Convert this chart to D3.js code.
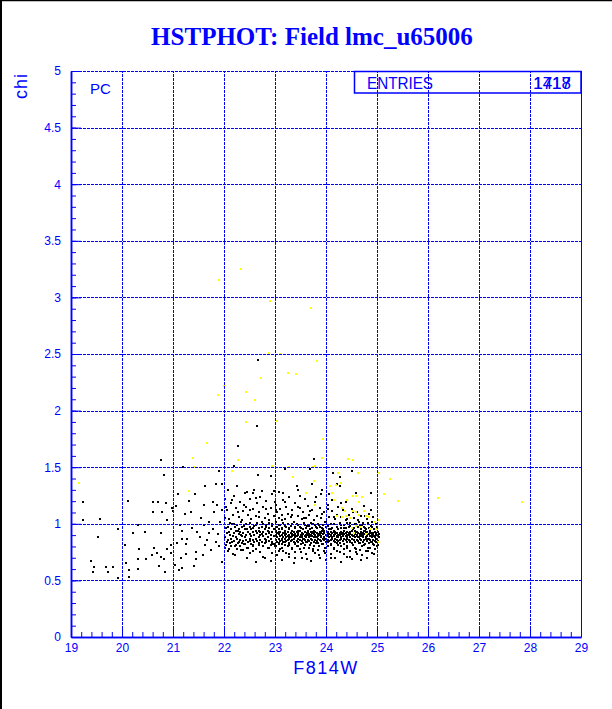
<!DOCTYPE html>
<html><head><meta charset="utf-8">
<script src="https://cdn.jsdelivr.net/npm/d3@7"></script>
<style>body{margin:0;background:#fff}svg{display:block}</style>
</head><body>
<script>
// ---- data ----
const title = "HSTPHOT: Field lmc_u65006";
const xLabel = "F814W";
const yLabel = "chi";
const xTicks = [19,20,21,22,23,24,25,26,27,28,29];
const yTicks = [0,0.5,1,1.5,2,2.5,3,3.5,4,4.5,5];
const statLabel = "ENTRIES";
const statValues = ["1418","1717"];
const optLabel = "PC";

// sparse black points [F814W, chi]
const blackSparse = [
[20.76,1.56],[20.82,1.43],[19.23,1.195],[19.24,1.03],[19.57,1.04],[20.12,1.20],[20.61,1.19],[20.71,1.19],
[20.86,1.18],[20.60,1.10],[20.79,1.10],[20.98,1.14],[20.88,1.03],[19.92,0.95],[19.52,0.88],[20.32,0.99],
[20.21,0.92],[20.46,0.93],[20.76,0.92],[20.05,0.81],[20.33,0.78],[19.39,0.67],[19.45,0.62],[19.43,0.57],
[19.68,0.62],[19.82,0.62],[19.73,0.57],[19.93,0.52],[20.13,0.53],[20.07,0.65],[20.13,0.59],[20.31,0.60],
[20.31,0.69],[20.47,0.69],[20.59,0.72],[20.62,0.79],[20.69,0.74],[20.73,0.63],[20.76,0.71],[20.82,0.69],
[20.85,0.57],[20.89,0.78],[20.96,0.81],[20.97,0.74],[21.03,0.64],[21.08,0.83],[21.12,0.59],[21.00,1.11],
[21.05,1.16],[21.09,1.26],[21.14,0.99],[21.20,1.50],[21.23,1.09],[21.18,0.94],[21.18,0.87],[21.16,0.70],
[21.17,0.61],[21.28,0.87],[21.25,0.82],[21.25,0.73],[21.31,1.20],[21.37,0.96],[21.44,1.26],[21.41,0.63],
[21.46,0.75],[21.46,0.69],[21.60,1.17],[21.62,1.33],[21.60,0.99],[21.52,0.88],[21.66,0.86],[21.63,0.81],
[21.71,0.92],[21.78,1.19],[21.84,1.35],[21.86,1.17],[21.91,1.47],[21.80,1.10],[21.79,0.95],[21.84,0.84],
[21.74,0.77],[21.96,0.66],[21.97,1.35],[21.96,1.12],[21.55,1.05],[21.70,1.02],[21.35,1.10],[21.48,0.93],
[21.90,0.80],[21.58,0.72],[21.88,0.91],[21.93,1.02],
[22.66,2.45],[22.64,1.86],[22.27,1.69],[23.76,1.57],[22.20,1.51],[22.66,1.43],
[23.19,1.48],[22.67,1.43],[22.92,1.42],[23.68,1.48],[24.51,1.47],[24.13,1.45],[24.27,1.41],[24.21,1.35],
[24.27,1.33],[23.93,1.30],[23.43,1.33],[23.49,1.25],[24.06,1.26],[24.59,1.27],[24.89,1.27],[22.46,1.28],
[22.56,1.27],[22.74,1.29],[22.99,1.29],[23.16,1.27],[22.42,1.27]
];

// dense black points grouped by F814W column: [F814W, [chi values]]
const blackDense = [
[22.02,[0.88,1.05,0.79,1.22]],[22.05,[0.92,0.84,1.12]],[22.08,[0.97,0.76,1.30,0.86]],
[22.11,[0.83,1.01,0.90]],[22.14,[0.95,1.18,0.80,0.87]],[22.17,[0.89,0.73,1.08]],
[22.20,[0.92,0.85,1.25,1.00]],[22.23,[0.81,0.94,0.88,1.14]],[22.26,[0.87,0.99,0.78,1.33]],
[22.29,[0.91,0.84,1.06,0.95]],[22.32,[0.86,0.93,1.19,0.80]],[22.35,[0.89,0.97,0.83,1.03]],
[22.38,[0.92,0.85,1.11,0.77]],[22.41,[0.88,0.95,1.27,0.82]],[22.44,[0.90,0.86,1.00,1.15]],
[22.47,[0.84,0.93,0.79,1.08]],[22.50,[0.91,0.87,0.97,1.22,0.74]],[22.53,[0.89,0.82,1.04,0.95]],
[22.56,[0.86,0.93,1.13,0.80]],[22.59,[0.90,0.84,0.98,1.30]],[22.62,[0.87,0.94,1.07,0.78,0.66]],
[22.65,[0.92,0.85,1.01,1.18]],[22.68,[0.88,0.96,0.81,1.10]],[22.71,[0.90,0.86,0.93,1.24,0.75]],
[22.74,[0.84,0.91,1.02,0.97]],[22.77,[0.89,0.93,0.80,1.15]],[22.80,[0.87,0.95,1.05,0.83,0.70]],
[22.83,[0.91,0.86,0.99,1.20]],[22.86,[0.88,0.94,0.79,1.09]],[22.89,[0.92,0.85,1.03,0.96]],
[22.92,[0.87,0.90,1.14,0.81,0.67]],[22.95,[0.93,0.84,1.00,1.26]],[22.98,[0.89,0.95,0.82,1.07]],
[23.01,[0.90,0.86,0.94,1.02,0.80,1.17]],[23.04,[0.88,0.92,0.84,0.97,1.10,0.72]],
[23.07,[0.91,0.87,0.95,0.83,1.05,1.28]],[23.10,[0.89,0.93,0.85,0.99,0.78,1.13]],
[23.13,[0.90,0.86,0.96,0.82,1.08,0.68]],[23.16,[0.92,0.88,0.84,1.01,1.21,0.76]],
[23.19,[0.87,0.94,0.90,0.81,1.04]],[23.22,[0.91,0.85,0.97,0.88,1.15,0.74]],
[23.25,[0.89,0.93,0.86,1.00,0.80,1.09]],[23.28,[0.90,0.87,0.95,0.83,1.24,0.71]],
[23.31,[0.92,0.88,0.85,0.98,1.06]],[23.34,[0.89,0.94,0.86,0.91,1.12,0.79]],
[23.37,[0.87,0.93,0.90,0.84,1.02,0.65]],[23.40,[0.91,0.88,0.96,0.82,1.18,0.75]],
[23.43,[0.89,0.85,0.93,1.00,0.80]],[23.46,[0.92,0.87,0.90,0.84,1.07,1.30]],
[23.49,[0.88,0.94,0.86,0.97,0.78,1.14]],[23.52,[0.90,0.85,0.92,0.88,1.04,0.70]],
[23.55,[0.91,0.87,0.95,0.83,1.10]],[23.58,[0.89,0.93,0.86,0.99,0.81,1.22]],
[23.61,[0.90,0.88,0.84,0.96,1.05,0.73]],[23.64,[0.92,0.86,0.90,0.94,1.16]],
[23.67,[0.88,0.91,0.85,0.98,0.79,1.08]],[23.70,[0.90,0.87,0.93,0.83,1.01,0.67]],
[23.73,[0.89,0.92,0.86,0.96,1.12,1.35]],[23.76,[0.91,0.88,0.84,0.94,0.80,1.03]],
[23.79,[0.90,0.86,0.93,0.99,1.19,0.74]],[23.82,[0.88,0.92,0.85,0.96,1.07]],
[23.85,[0.91,0.87,0.89,0.83,1.00,0.77]],[23.88,[0.90,0.93,0.86,0.97,1.14,0.70]],
[23.91,[0.89,0.85,0.92,0.88,1.05,1.26]],[23.94,[0.91,0.87,0.95,0.82,0.99]],
[23.97,[0.88,0.92,0.86,0.94,1.10,0.76]],[24.00,[0.90,0.87,0.84,0.97,1.02,0.68]],
[24.03,[0.89,0.93,0.86,0.91,1.17,0.80]],[24.06,[0.91,0.88,0.85,0.95,1.06]],
[24.09,[0.90,0.86,0.93,0.82,1.00,0.73]],[24.12,[0.88,0.92,0.87,0.96,1.11,1.21]],
[24.15,[0.90,0.85,0.94,0.89,0.79]],[24.18,[0.91,0.87,0.93,0.84,1.04,0.70]],
[24.21,[0.89,0.92,0.86,0.97,1.08]],[24.24,[0.90,0.88,0.85,0.95,0.81,1.15]],
[24.27,[0.92,0.86,0.90,0.83,1.01,0.75]],[24.30,[0.88,0.93,0.87,0.96,1.06,0.66]],
[24.33,[0.90,0.85,0.92,0.89,1.12]],[24.36,[0.91,0.87,0.94,0.82,0.99,0.78]],
[24.39,[0.89,0.92,0.86,0.96,1.03,1.19]],[24.42,[0.90,0.88,0.84,0.93,0.80,0.71]],
[24.45,[0.92,0.86,0.90,0.97,1.08]],[24.48,[0.88,0.93,0.85,0.91,1.01,0.76]],
[24.51,[0.90,0.87,0.94,0.83,1.13,0.69]],[24.54,[0.89,0.92,0.86,0.96,1.05]],
[24.57,[0.91,0.88,0.84,0.94,0.79,1.00]],[24.60,[0.90,0.86,0.93,0.89,1.10,0.73]],
[24.63,[0.88,0.92,0.85,0.97,1.03]],[24.66,[0.91,0.87,0.90,0.83,0.98,0.77]],
[24.69,[0.89,0.93,0.86,0.95,1.07,0.68]],[24.72,[0.90,0.88,0.84,0.92,1.01]],
[24.75,[0.91,0.86,0.94,0.81,0.97,1.16]],[24.78,[0.88,0.92,0.87,0.95,0.76]],
[24.81,[0.90,0.85,0.93,0.89,1.04,0.70]],[24.84,[0.91,0.87,0.83,0.96,1.09]],
[24.87,[0.89,0.92,0.86,0.94,0.79]],[24.90,[0.90,0.88,0.84,0.97,1.02,0.74]],
[24.93,[0.92,0.86,0.90,0.82,1.06]],[24.96,[0.88,0.93,0.85,0.95,0.78]],
[24.99,[0.90,0.87,0.84,0.92,1.00]],[25.02,[0.89,0.85,0.93,0.81]],[25.04,[0.88,0.91]],
[22.035,[0.81,0.96,1.15]],[22.095,[0.78,0.93,1.04]],[22.155,[0.84,1.00,1.21]],
[22.215,[0.80,0.97,0.72]],[22.275,[0.83,0.94,1.10]],[22.335,[0.77,1.02,0.90]],
[22.395,[0.82,0.98,1.17]],[22.455,[0.79,0.95,0.70]],[22.515,[0.85,1.01,1.12]],
[22.575,[0.81,0.96,0.76]],[22.635,[0.78,0.99,1.23]],[22.695,[0.83,0.94,1.06]],
[22.755,[0.80,1.00,0.71]],[22.815,[0.84,0.97,1.13]],[22.875,[0.79,0.93,1.01]],
[22.935,[0.82,0.98,0.74]],[22.995,[0.80,0.95,1.19]],
[23.025,[0.80,0.97,0.89,1.12]],[23.085,[0.82,0.99,0.93,0.76]],[23.145,[0.79,0.95,1.03,0.87]],
[23.205,[0.84,0.98,0.92,1.19]],[23.265,[0.81,0.96,0.88,0.73]],[23.325,[0.78,1.00,0.91,1.08]],
[23.385,[0.83,0.97,0.89,0.70]],[23.445,[0.80,0.99,0.94,1.15]],[23.505,[0.82,0.96,0.90,0.75]],
[23.565,[0.79,1.01,0.87,1.05]],[23.625,[0.84,0.98,0.92,0.69]],[23.685,[0.81,0.95,0.89,1.11]],
[23.745,[0.78,1.00,0.93,0.76]],[23.805,[0.83,0.97,0.88,1.24]],[23.865,[0.80,0.99,0.91,0.72]],
[23.925,[0.82,0.96,0.94,1.09]],[23.985,[0.79,1.02,0.87,0.74]],[24.045,[0.84,0.98,0.92,1.13]],
[24.105,[0.81,0.95,0.89,0.70]],[24.165,[0.78,1.00,0.93,1.06]],[24.225,[0.83,0.97,0.88,0.76]],
[24.285,[0.80,0.99,0.91,1.18]],[24.345,[0.82,0.96,0.94,0.73]],[24.405,[0.79,1.01,0.87,1.04]],
[24.465,[0.84,0.98,0.92,0.71]],[24.525,[0.81,0.95,0.89,1.10]],[24.585,[0.78,1.00,0.93,0.75]],
[24.645,[0.83,0.97,0.88,1.02]],[24.705,[0.80,0.99,0.91,0.72]],[24.765,[0.82,0.96,0.94,1.07]],
[24.825,[0.79,1.01,0.87,0.76]],[24.885,[0.84,0.98,0.92,1.12]],[24.945,[0.81,0.95,0.89,0.73]],
[25.005,[0.80,0.97,0.90]]
];

// yellow points [F814W, chi]
const yellowPts = [
[19.15,1.36],[21.39,1.58],[21.41,1.50],[21.31,1.29],[21.67,1.71],[21.88,2.14],[21.90,3.15],[22.00,2.22],
[22.16,1.47],[22.27,1.56],[22.33,3.25],[22.43,1.90],[22.44,2.16],[22.61,2.09],[22.72,2.29],[22.88,2.51],
[22.90,2.97],[23.03,1.91],[23.10,2.50],[23.25,2.33],[23.41,2.32],[23.70,2.91],[23.82,2.44],[23.93,1.58],
[23.95,1.75],[24.44,1.57],[24.52,1.56],[22.94,1.51],[23.27,1.50],[23.74,1.50],[23.78,1.51],[24.24,1.45],
[24.63,1.45],[25.03,1.45],[23.35,1.41],[23.76,1.38],[24.29,1.36],[24.08,1.33],[24.19,1.34],[25.25,1.40],
[23.61,1.27],[24.11,1.27],[24.71,1.24],[24.52,1.25],[24.59,1.25],[24.42,1.21],[24.16,1.21],[24.65,1.19],
[25.14,1.26],[25.41,1.20],[26.20,1.23],[27.84,1.19],[23.78,1.17],[24.31,1.14],[24.38,1.11],[24.52,1.11],
[24.59,1.10],[24.65,1.08],[24.75,1.11],[24.84,1.06],[24.96,1.02],[25.02,1.03],[24.22,1.07],[24.31,1.06],
[24.40,1.07],[24.47,1.05],[24.78,1.07],[24.51,0.96],[24.59,0.98],[24.67,0.97],[24.86,0.95],[24.99,0.95],
[24.54,0.92],[24.78,0.91],[25.01,0.84]
];

// ---- drawing ----
const W = 612, H = 709, BLUE = "#0000ff";
const x = d3.scaleLinear().domain([19,29]).range([71,581]);
const y = d3.scaleLinear().domain([0,5]).range([637,71]);

const svg = d3.select("body").append("svg").attr("width", W).attr("height", H);
svg.append("rect").attr("width", W).attr("height", H).attr("fill", "#fff");
// page frame (left and top)
svg.append("line").attr("x1",1).attr("x2",1).attr("y1",0).attr("y2",H).attr("stroke","#000").attr("stroke-width",2);
svg.append("line").attr("x1",0).attr("x2",W).attr("y1",0.5).attr("y2",0.5).attr("stroke","#000").attr("stroke-width",1.5);

svg.append("text").attr("x", 312).attr("y", 45).attr("text-anchor","middle")
  .attr("font-family","'Liberation Serif', 'Times New Roman', serif").attr("font-weight","bold")
  .attr("font-size", 25).attr("fill", BLUE).text(title);

const blackPts = blackSparse.concat(blackDense.flatMap(([xv, ys]) => ys.map(v => [xv, v])));

const pts = svg.append("g");
pts.selectAll("rect.b").data(blackPts).join("rect").attr("class","b")
  .attr("x", d => Math.round(x(d[0])) - 1).attr("y", d => Math.round(y(d[1])) - 1)
  .attr("width", 2).attr("height", 2).attr("fill", "#000");
pts.selectAll("rect.yl").data(yellowPts).join("rect").attr("class","yl")
  .attr("x", d => Math.round(x(d[0])) - 1).attr("y", d => Math.round(y(d[1])) - 1)
  .attr("width", 2).attr("height", 2).attr("fill", "#ffff00");

// grid
const grid = svg.append("g").attr("stroke", BLUE).attr("stroke-width", 1).attr("stroke-dasharray", "3,1").attr("shape-rendering","crispEdges");
grid.selectAll("line.v").data(xTicks.slice(1, -1)).join("line").attr("class","v")
  .attr("x1", d => Math.round(x(d)) + 0.5).attr("x2", d => Math.round(x(d)) + 0.5)
  .attr("y1", y(0)).attr("y2", y(5));
grid.selectAll("line.h").data(yTicks.slice(1)).join("line").attr("class","h")
  .attr("y1", d => Math.round(y(d)) + 0.5).attr("y2", d => Math.round(y(d)) + 0.5)
  .attr("x1", x(19)).attr("x2", x(29));

// right frame
svg.append("line").attr("x1", x(29)+0.5).attr("x2", x(29)+0.5).attr("y1", y(5)).attr("y2", y(0))
  .attr("stroke", BLUE).attr("stroke-width", 1);

function styleAxis(g) {
  g.select(".domain").attr("stroke", BLUE).attr("stroke-width", 1.5);
  g.selectAll(".tick line").attr("stroke", BLUE);
  g.selectAll(".tick text").attr("fill", BLUE).attr("font-family","'Liberation Sans', Arial, sans-serif").attr("font-size", 12);
}

// y axis: minor ticks, major ticks with labels
const yMinor = d3.range(0, 51).map(i => i / 10);
svg.append("g").attr("transform", `translate(${x(19)},0)`)
  .call(d3.axisLeft(y).tickValues(yMinor).tickSize(-5).tickSizeOuter(0).tickFormat(""))
  .call(styleAxis);
svg.append("g").attr("transform", `translate(${x(19)},0)`)
  .call(d3.axisLeft(y).tickValues(yTicks).tickSize(-10).tickSizeOuter(0).tickPadding(10).tickFormat(d => String(d)))
  .call(styleAxis);

// x axis
const xMinor = d3.range(0, 51).map(i => 19 + i * 0.2);
svg.append("g").attr("transform", `translate(0,${y(0)})`)
  .call(d3.axisBottom(x).tickValues(xMinor).tickSize(-5).tickSizeOuter(0).tickFormat(""))
  .call(styleAxis);
svg.append("g").attr("transform", `translate(0,${y(0)})`)
  .call(d3.axisBottom(x).tickValues(xTicks).tickSize(-10).tickSizeOuter(0).tickPadding(6).tickFormat(d => String(d)))
  .call(styleAxis);

// axis titles
svg.append("text").attr("x", 326).attr("y", 674).attr("text-anchor","middle")
  .attr("font-family","'Liberation Sans', Arial, sans-serif").attr("font-size", 18).attr("letter-spacing", 1.5)
  .attr("fill", BLUE).text(xLabel);
svg.append("text").attr("transform", "translate(27,73) rotate(-90)").attr("text-anchor","end")
  .attr("font-family","'Liberation Sans', Arial, sans-serif").attr("font-size", 18).attr("letter-spacing", 1)
  .attr("fill", BLUE).text(yLabel);

// option label
svg.append("text").attr("x", 90).attr("y", 94)
  .attr("font-family","'Liberation Sans', Arial, sans-serif").attr("font-size", 15)
  .attr("fill", BLUE).text(optLabel);

// stats box
svg.append("rect").attr("x", 354.5).attr("y", 71.5).attr("width", 581 - 354.5).attr("height", 21.5)
  .attr("fill", "none").attr("stroke", BLUE).attr("stroke-width", 1.5);
svg.append("text").attr("x", 367).attr("y", 89).attr("textLength", 66).attr("lengthAdjust","spacingAndGlyphs")
  .attr("font-family","'Liberation Sans', Arial, sans-serif").attr("font-size", 17)
  .attr("fill", BLUE).text(statLabel);
svg.selectAll("text.sv").data(statValues).join("text").attr("class","sv")
  .attr("x", 571).attr("y", 89).attr("text-anchor","end")
  .attr("font-family","'Liberation Sans', Arial, sans-serif").attr("font-size", 17)
  .attr("fill", BLUE).text(d => d);
</script>
</body></html>
